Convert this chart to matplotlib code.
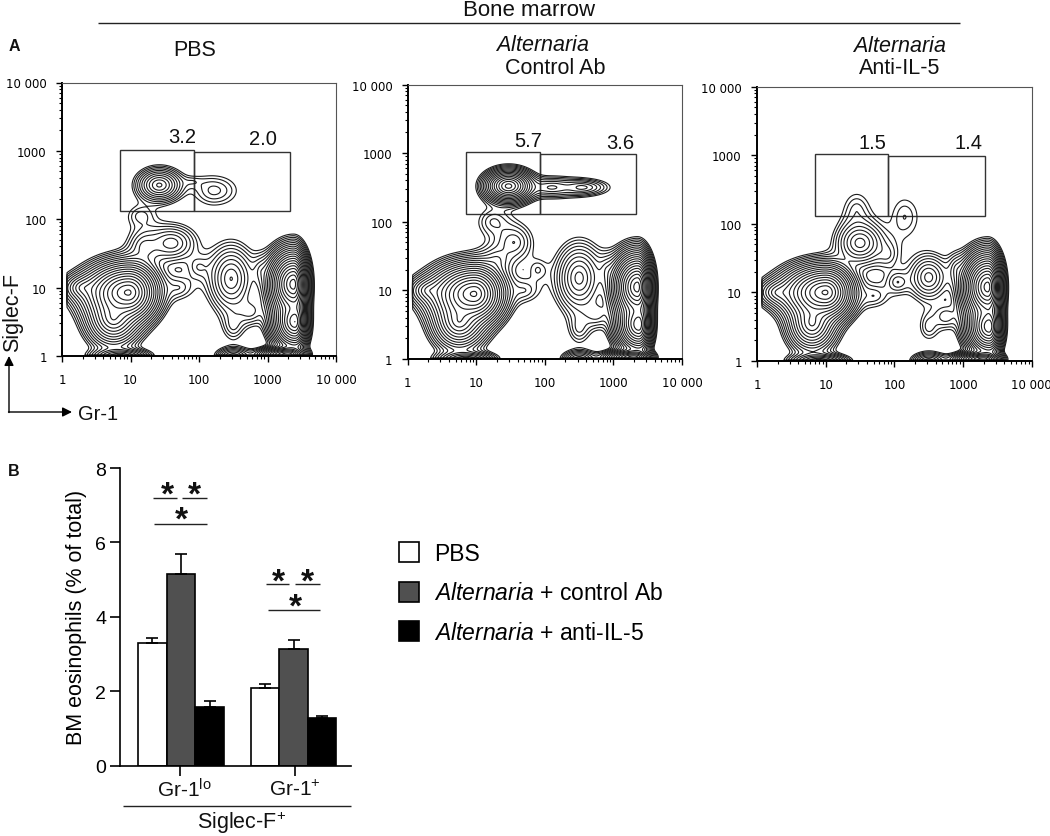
#!/usr/bin/env python3
# -*- coding: utf-8 -*-
import numpy as np
import matplotlib
matplotlib.use('Agg')
import matplotlib.pyplot as plt
from matplotlib.patches import Rectangle, Patch
from matplotlib.ticker import LogLocator, NullFormatter, FixedLocator, FixedFormatter

plt.rcParams['font.family'] = ['Liberation Sans', 'DejaVu Sans']
plt.rcParams['mathtext.fontset'] = 'custom'
plt.rcParams['mathtext.rm'] = 'Liberation Sans'
plt.rcParams['mathtext.it'] = 'Liberation Sans:italic'

W, H = 1050, 837

# flow populations:
# log10 x, log10 y, spread left, spread right, spread y, height
pbs_pops = [
    (0.97, 0.93, 0.19, 0.13, 0.13, 1.00), (0.75, 0.55, 0.13, 0.13, 0.14, 0.25), (0.30, 1.00, 0.12, 0.12, 0.08, 0.05),
    (1.42, 2.50, 0.12, 0.12, 0.09, 0.10), (1.15, 2.05, 0.13, 0.13, 0.10, 0.010), (2.22, 2.42, 0.17, 0.20, 0.13, 0.014),
    (1.90, 2.55, 0.10, 0.10, 0.05, 0.005), (1.60, 1.65, 0.16, 0.16, 0.12, 0.035), (1.20, 1.60, 0.12, 0.12, 0.13, 0.02),
    (2.00, 1.30, 0.10, 0.10, 0.10, 0.010), (1.70, 1.00, 0.14, 0.14, 0.11, 0.011), (2.47, 1.13, 0.13, 0.13, 0.19, 0.07),
    (2.50, 0.45, 0.09, 0.09, 0.13, 0.012), (2.50, 0.00, 0.10, 0.10, 0.05, 0.05), (2.90, 1.25, 0.07, 0.07, 0.12, 0.014),
    (2.75, 0.65, 0.10, 0.10, 0.10, 0.016),
    (3.38, 1.05, 0.105, 0.058, 0.14, 2.00), (3.40, 0.50, 0.10, 0.056, 0.12, 0.90), (3.30, 0.02, 0.13, 0.08, 0.035, 0.50),
    (0.85, 0.00, 0.15, 0.15, 0.04, 0.10),
]
alt_ctrl_pops = [
    (0.97, 0.95, 0.19, 0.13, 0.13, 1.00), (0.75, 0.55, 0.13, 0.13, 0.14, 0.25), (0.30, 1.00, 0.12, 0.12, 0.08, 0.05),
    (1.47, 2.52, 0.11, 0.11, 0.075, 0.45), (2.10, 2.50, 0.17, 0.17, 0.07, 0.03), (2.55, 2.50, 0.13, 0.17, 0.055, 0.03),
    (1.25, 2.00, 0.14, 0.14, 0.12, 0.012), (1.55, 1.70, 0.14, 0.14, 0.14, 0.02), (1.30, 1.45, 0.12, 0.12, 0.11, 0.015),
    (1.90, 1.30, 0.09, 0.09, 0.10, 0.008), (1.70, 1.00, 0.14, 0.14, 0.11, 0.011), (2.50, 1.18, 0.13, 0.13, 0.19, 0.08),
    (2.50, 0.45, 0.09, 0.09, 0.13, 0.012), (2.50, 0.00, 0.10, 0.10, 0.05, 0.05), (2.90, 1.30, 0.07, 0.07, 0.12, 0.014),
    (2.75, 0.65, 0.10, 0.10, 0.10, 0.016),
    (3.35, 1.05, 0.105, 0.058, 0.14, 2.00), (3.37, 0.50, 0.10, 0.056, 0.12, 0.90), (3.30, 0.02, 0.13, 0.08, 0.035, 0.50),
    (0.85, 0.00, 0.15, 0.15, 0.04, 0.10),
]
alt_il5_pops = [
    (1.00, 1.00, 0.19, 0.12, 0.12, 1.00), (0.80, 0.55, 0.12, 0.12, 0.14, 0.22), (0.30, 1.00, 0.12, 0.12, 0.08, 0.05),
    (1.50, 1.72, 0.14, 0.14, 0.13, 0.06), (1.45, 2.20, 0.13, 0.13, 0.18, 0.010), (2.15, 2.10, 0.14, 0.16, 0.22, 0.009),
    (2.05, 1.15, 0.09, 0.09, 0.09, 0.014), (1.70, 0.95, 0.14, 0.14, 0.11, 0.011), (1.90, 1.55, 0.10, 0.10, 0.12, 0.010),
    (2.50, 1.22, 0.12, 0.12, 0.14, 0.045), (2.50, 0.50, 0.09, 0.09, 0.13, 0.010), (2.50, 0.00, 0.10, 0.10, 0.05, 0.05),
    (2.90, 1.35, 0.07, 0.07, 0.12, 0.014), (2.75, 0.65, 0.10, 0.10, 0.10, 0.014),
    (3.36, 1.08, 0.105, 0.058, 0.14, 2.00), (3.38, 0.50, 0.10, 0.056, 0.12, 0.90), (3.30, 0.02, 0.13, 0.08, 0.035, 0.50),
    (0.90, 0.00, 0.15, 0.15, 0.04, 0.10),
]

# gates: x0, x1, y0, y1
pbs_gates = [(7, 85, 130, 1040), (85, 2100, 130, 960)]
alt_ctrl_gates = [(7, 85, 130, 1040), (85, 2100, 130, 960)]
alt_il5_gates = [(7, 80, 130, 1050), (80, 2100, 130, 970)]

flow_ticks = [1, 10, 100, 1000, 10000]
flow_ticklabels = ['1', '10', '100', '1000', '10 000']

subset_labels = ['Gr-1$^{\\mathrm{lo}}$', 'Gr-1$^{+}$']
pbs_vals = [3.3, 2.1]
ctrl_vals = [5.15, 3.13]
il5_vals = [1.58, 1.28]
pbs_err = [0.13, 0.10]
ctrl_err = [0.55, 0.24]
il5_err = [0.15, 0.05]
legend_labels = ['PBS', '$\\mathit{Alternaria}$ + control Ab', '$\\mathit{Alternaria}$ + anti-IL-5']


def add_ax(left, top, right, bottom):
    return fig.add_axes([left / W, 1 - bottom / H, (right - left) / W, (bottom - top) / H])


def flow_panel(box, pops, gates):
    ax = add_ax(*box)
    lx = np.linspace(0, 4, 600)
    ly = np.linspace(0, 4, 600)
    gx, gy = np.meshgrid(lx, ly)
    z = np.zeros_like(gx)
    for x0, y0, sl, sr, sy, h in pops:
        dx = gx - x0
        rx = np.where(dx < 0, dx / sl, dx / sr)
        r = np.sqrt(rx ** 2 + ((gy - y0) / sy) ** 2)
        z += h * np.exp(-0.5 * r ** 1.5)
    # events pile up on the axis, contours are closed at the plot edge
    z[:, lx < 0.07] = 0
    z[ly < 0.01, :] = 0
    levels = np.geomspace(0.005, 3.0, 23)
    ax.contour(10 ** lx, 10 ** ly, z, levels=levels, colors='#1c1c1c', linewidths=0.8)
    for x0, x1, y0, y1 in gates:
        ax.add_patch(Rectangle((x0, y0), x1 - x0, y1 - y0, fill=False, ec='#333333', lw=1))
    ax.set_xscale('log')
    ax.set_yscale('log')
    ax.set_xlim(1, 10000)
    ax.set_ylim(1, 10000)
    for axis in (ax.xaxis, ax.yaxis):
        axis.set_major_locator(FixedLocator(flow_ticks))
        axis.set_major_formatter(FixedFormatter(flow_ticklabels))
        axis.set_minor_locator(LogLocator(base=10, subs=range(2, 10)))
        axis.set_minor_formatter(NullFormatter())
    ax.tick_params(which='major', length=4, width=1, labelsize=8.5, pad=8)
    ax.tick_params(which='minor', length=2, width=0.8)
    for lab in ax.get_xticklabels() + ax.get_yticklabels():
        lab.set_family('DejaVu Sans')
    ax.tick_params(axis='y', pad=7)
    ax.spines['top'].set_color('#555555')
    ax.spines['right'].set_color('#555555')
    ax.spines['left'].set_linewidth(1.4)
    ax.spines['bottom'].set_linewidth(1.4)
    return ax


fig = plt.figure(figsize=(W / 100, H / 100), dpi=100)
fig.patch.set_facecolor('white')

flow_panel((62, 83.5, 336, 357), pbs_pops, pbs_gates)
flow_panel((407.7, 85.5, 682, 360), alt_ctrl_pops, alt_ctrl_gates)
flow_panel((757, 87.7, 1031.7, 362), alt_il5_pops, alt_il5_gates)

# bar panel
ax = add_ax(120, 469, 350.7, 766.7)
centers = np.array([181.0, 293.6])
bw = 28.6
for off, vals, errs, col in [(-bw, pbs_vals, pbs_err, 'white'),
                             (0, ctrl_vals, ctrl_err, '#505050'),
                             (bw, il5_vals, il5_err, 'black')]:
    ax.bar(centers + off, vals, bw, color=col, edgecolor='black', linewidth=1.2, zorder=2,
           yerr=[np.zeros(2), errs], error_kw=dict(ecolor='black', elinewidth=1.2, capsize=4.5, capthick=1.2))
ax.set_xlim(120, 350.7)
ax.set_ylim(0, 8)
ax.set_xticks([180, 295])
ax.set_xticklabels([])
ax.set_yticks([0, 2, 4, 6, 8])
ax.tick_params(axis='both', labelsize=14, length=7, width=1.2)
ax.tick_params(axis='y', pad=3)
ax.set_ylabel('BM eosinophils (% of total)', fontsize=15.5, labelpad=6)
ax.spines['top'].set_visible(False)
ax.spines['right'].set_visible(False)
ax.spines['left'].set_linewidth(1.2)
ax.spines['bottom'].set_linewidth(1.2)

# everything else is placed in picture pixels
ov = fig.add_axes([0, 0, 1, 1], zorder=5)
ov.set_xlim(0, W)
ov.set_ylim(H, 0)
ov.axis('off')
ov.patch.set_alpha(0)


def txt(x, y, s, size=13, ha='center', **kw):
    ov.text(x, y, s, fontsize=size, ha=ha, va='center', color='#111111', **kw)


def hline(x0, x1, y, lw=1.0):
    ov.plot([x0, x1], [y, y], color='#222222', lw=lw, solid_capstyle='butt')


txt(529, 10, 'Bone marrow', 16)
hline(98, 960, 24)
txt(14, 46, 'A', 11.5, weight='bold')
txt(14, 472, 'B', 11.5, weight='bold')
txt(195, 50, 'PBS', 15.5)
txt(542, 45, '$\\mathit{Alternaria}$', 15.5)
txt(555, 68, 'Control Ab', 15.5)
txt(899, 46, '$\\mathit{Alternaria}$', 15.5)
txt(900, 68, 'Anti-IL-5', 15.5)

for x, y, s in [(182, 137, '3.2'), (263, 139, '2.0'), (528, 141, '5.7'), (620, 143, '3.6'),
                (872, 143, '1.5'), (968, 143, '1.4')]:
    txt(x, y, s, 14.5)

txt(13, 312, 'Siglec-F', 15.5, rotation=90)
txt(98, 414, 'Gr-1', 14.5)
ov.annotate('', xy=(9, 357), xytext=(9, 413.5),
            arrowprops=dict(arrowstyle='-|>', color='black', lw=1, shrinkA=0, shrinkB=0, mutation_scale=14))
ov.annotate('', xy=(72, 413), xytext=(8.5, 413),
            arrowprops=dict(arrowstyle='-|>', color='black', lw=1, shrinkA=0, shrinkB=0, mutation_scale=14))

# significance marks
for x, y in [(167, 496), (194, 496), (181, 521), (278, 583), (307, 583), (295, 608)]:
    txt(x, y, '*', 24, weight='bold')
hline(153, 177, 499)
hline(182, 207, 499)
hline(154, 207, 525)
hline(266, 289, 585)
hline(295, 320, 585)
hline(268, 320, 610.7)

txt(184, 790, subset_labels[0], 15)
txt(295, 790, subset_labels[1], 15)
hline(122.7, 350.7, 806.7)
txt(242, 823, 'Siglec-F$^{+}$', 15.5)

handles = [Patch(fc=c, ec='black', lw=1.2) for c in ['white', '#505050', 'black']]
ov.legend(handles, legend_labels, loc='upper left', bbox_to_anchor=(399 / W, 1 - 543 / H), frameon=False,
          fontsize=16.5, handlelength=0.87, handleheight=0.97, handletextpad=0.65, labelspacing=0.72, borderpad=0, borderaxespad=0)

fig.savefig('out.png', dpi=100)
